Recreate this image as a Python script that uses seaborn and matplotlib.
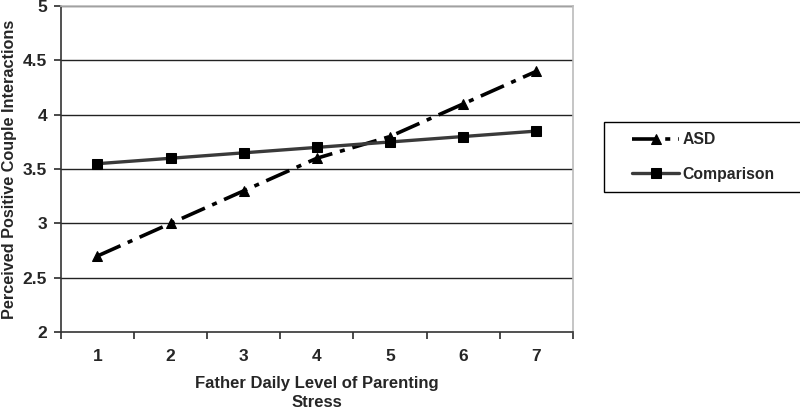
import numpy as np
import pandas as pd
import matplotlib
matplotlib.use('Agg')
import matplotlib.pyplot as plt
from matplotlib.patches import Rectangle
import seaborn as sns

# data
stress_levels = [1, 2, 3, 4, 5, 6, 7]
asd_values = [2.7, 3.0, 3.3, 3.6, 3.8, 4.1, 4.4]
comparison_values = [3.55, 3.6, 3.65, 3.7, 3.75, 3.8, 3.85]
y_ticks = [2, 2.5, 3, 3.5, 4, 4.5, 5]

sns.set_theme(style="white")
plt.rcParams['font.family'] = ['Liberation Sans', 'DejaVu Sans']
plt.rcParams['font.weight'] = 'bold'

df = pd.DataFrame({
    "stress": stress_levels * 2,
    "value": asd_values + comparison_values,
    "group": ["ASD"] * 7 + ["Comparison"] * 7,
})

fig = plt.figure(figsize=(8, 4.12), dpi=100)
ax = fig.add_axes([0.076, 0.194, 0.64, 0.791])

for y in y_ticks[1:]:
    ax.axhline(y, color='#222222', lw=1.0, zorder=0)

asd = df[df.group == "ASD"]
comp = df[df.group == "Comparison"]
sns.lineplot(data=asd, x="stress", y="value", ax=ax, color='black', lw=2.6,
             marker='^', markersize=7.5, markeredgecolor='black',
             label="ASD")
ax.lines[-1].set_dashes([7, 2.2, 1.4, 2.2])
sns.lineplot(data=comp, x="stress", y="value", ax=ax, color='#3a3a3a', lw=2.4,
             marker='s', markersize=6.5, markerfacecolor='black',
             markeredgecolor='black', label="Comparison")

ax.set_xlim(0.5, 7.5)
ax.set_ylim(2, 5)
ax.set_yticks(y_ticks)
ax.set_yticklabels([f"{v:g}" for v in y_ticks], fontsize=12.5,
                   fontweight='bold')
ax.set_xticks(np.arange(0.5, 8, 1))
ax.set_xticklabels([])
ax.set_xticks(stress_levels, minor=True)
ax.set_xticklabels([str(s) for s in stress_levels], minor=True,
                   fontsize=12.5, fontweight='bold')
ax.tick_params(axis='x', which='major', direction='out', length=5,
               color='#333333', bottom=True)
ax.tick_params(axis='x', which='minor', length=0, pad=12)
ax.tick_params(axis='y', direction='out', length=5, color='#333333', left=True,
               pad=5)

for side in ['left', 'bottom']:
    ax.spines[side].set_color('#333333')
    ax.spines[side].set_linewidth(1.2)
for side in ['top', 'right']:
    ax.spines[side].set_color('#bbbbbb')
    ax.spines[side].set_linewidth(1.2)

ax.set_xlabel("Father Daily Level of Parenting\nStress", fontsize=12,
              fontweight='bold', labelpad=9, linespacing=1.3)
ax.set_ylabel("Perceived Positive Couple Interactions", fontsize=11.7,
              fontweight='bold', labelpad=4)

# legend box runs off the right edge in the reference, draw it by hand
fig.patches.append(Rectangle((604 / 800, 1 - 192 / 412), 0.3, 70 / 412,
                             transform=fig.transFigure, facecolor='white',
                             edgecolor='black', lw=1.0))
handles, labels = ax.get_legend_handles_labels()
ax.get_legend().remove()
leg = fig.legend(handles, labels, loc='center left',
                 bbox_to_anchor=(626 / 800, 1 - 157 / 412), frameon=False,
                 prop={'size': 11.3, 'weight': 'bold'},
                 labelspacing=1.25, handlelength=3.0, borderpad=0.4,
                 handletextpad=0.2, borderaxespad=0)

fig.savefig("out.png", dpi=100)
